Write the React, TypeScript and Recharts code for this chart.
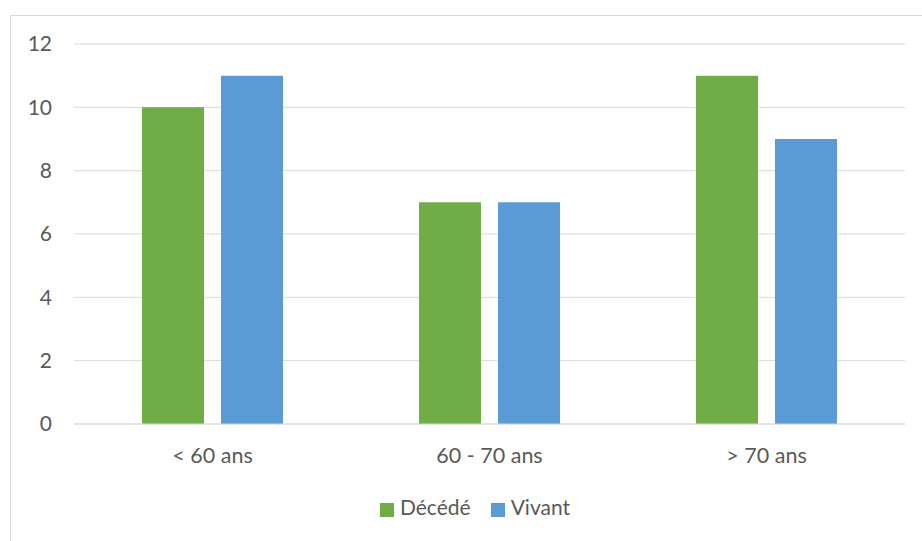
import React from "react";
import { BarChart, Bar, XAxis, YAxis, CartesianGrid, Legend } from "recharts";

const categories = ["< 60 ans", "60 - 70 ans", "> 70 ans"];
const decede = [10, 7, 11];
const vivant = [11, 7, 9];
const yTicks = [0, 2, 4, 6, 8, 10, 12];

const data = categories.map((c, i) => ({ name: c, decede: decede[i], vivant: vivant[i] }));

const FONT = "Lato, sans-serif";
const TXT = "#595959";

export default function App() {
  return (
    <div style={{ position: "absolute", left: 0, top: 0, width: 922, height: 541, overflow: "hidden", background: "#fff" }}>
      <div style={{ position: "absolute", left: 10, top: 15, width: 940, height: 560, border: "1px solid #d9d9d9", boxSizing: "border-box" }} />
      <BarChart
        width={922}
        height={541}
        data={data}
        margin={{ top: 44, right: 17, bottom: 59, left: 0 }}
        barGap={17}
        style={{ position: "absolute", left: 0, top: 0, fontFamily: FONT }}
      >
        <CartesianGrid vertical={false} stroke="#d9d9d9" strokeWidth={1} />
        <XAxis
          dataKey="name"
          axisLine={{ stroke: "#d9d9d9" }}
          tickLine={false}
          tickSize={0}
          tickMargin={24}
          tick={{ fill: TXT, fontSize: 21.5, fontFamily: FONT }}
        />
        <YAxis
          width={74}
          domain={[0, 12]}
          ticks={yTicks}
          axisLine={false}
          tickLine={false}
          tickSize={0}
          tickMargin={22}
          tick={{ fill: TXT, fontSize: 21, fontFamily: FONT }}
        />
        <Legend
          verticalAlign="bottom"
          iconType="square"
          iconSize={14}
          wrapperStyle={{ position: "absolute", top: 493, left: 24, width: 922, height: 28, fontFamily: FONT, fontSize: 21, lineHeight: "28px" }}
          formatter={(v: string) => <span style={{ color: TXT, marginLeft: 2, marginRight: 10 }}>{v}</span>}
        />
        <Bar dataKey="decede" name="Décédé" fill="#70ad47" barSize={62} isAnimationActive={false} />
        <Bar dataKey="vivant" name="Vivant" fill="#5b9bd5" barSize={62} isAnimationActive={false} />
      </BarChart>
    </div>
  );
}
